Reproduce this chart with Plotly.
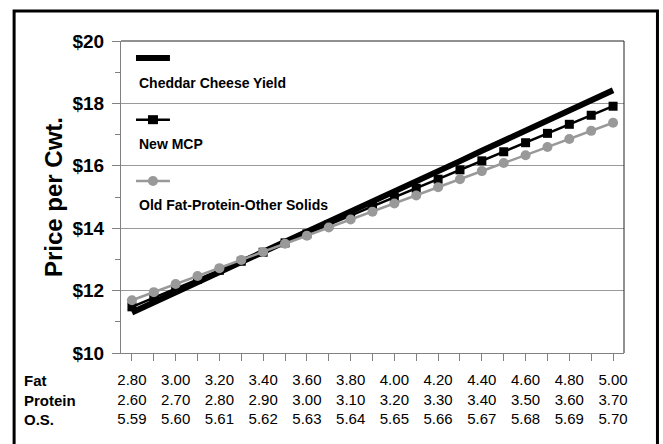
import plotly.graph_objects as go

# ---- data ----
fat = [2.8, 2.9, 3.0, 3.1, 3.2, 3.3, 3.4, 3.5, 3.6, 3.7, 3.8, 3.9, 4.0,
       4.1, 4.2, 4.3, 4.4, 4.5, 4.6, 4.7, 4.8, 4.9, 5.0]
cheddar = [11.30, 11.62, 11.95, 12.27, 12.59, 12.92, 13.24, 13.57, 13.89, 14.21, 14.54, 14.86,
           15.18, 15.51, 15.83, 16.15, 16.48, 16.80, 17.12, 17.45, 17.77, 18.09, 18.42]
new_mcp = [11.48, 11.77, 12.06, 12.36, 12.65, 12.94, 13.23, 13.53, 13.82, 14.11, 14.40, 14.70,
           14.99, 15.28, 15.57, 15.87, 16.16, 16.45, 16.74, 17.04, 17.33, 17.62, 17.91]
old_fpos = [11.69, 11.95, 12.21, 12.47, 12.72, 12.98, 13.24, 13.50, 13.76, 14.02, 14.28, 14.53,
            14.79, 15.05, 15.31, 15.57, 15.83, 16.09, 16.34, 16.60, 16.86, 17.12, 17.38]

label_fat = [2.8, 3.0, 3.2, 3.4, 3.6, 3.8, 4.0, 4.2, 4.4, 4.6, 4.8, 5.0]
fat_text = ["2.80", "3.00", "3.20", "3.40", "3.60", "3.80", "4.00", "4.20", "4.40", "4.60", "4.80", "5.00"]
protein_text = ["2.60", "2.70", "2.80", "2.90", "3.00", "3.10", "3.20", "3.30", "3.40", "3.50", "3.60", "3.70"]
os_text = ["5.59", "5.60", "5.61", "5.62", "5.63", "5.64", "5.65", "5.66", "5.67", "5.68", "5.69", "5.70"]
row_labels = ["Fat", "Protein", "O.S."]

series_names = ["Cheddar Cheese Yield", "New MCP", "Old Fat-Protein-Other Solids"]

GRAY = "#999999"
AX = "#808080"
ARIAL = "Liberation Sans, Arial, sans-serif"

fig = go.Figure()
fig.add_trace(go.Scatter(x=fat, y=cheddar, mode="lines", name=series_names[0],
                         line=dict(color="black", width=6)))
fig.add_trace(go.Scatter(x=fat, y=new_mcp, mode="lines+markers", name=series_names[1],
                         line=dict(color="black", width=2.5),
                         marker=dict(symbol="square", size=9, color="black")))
fig.add_trace(go.Scatter(x=fat, y=old_fpos, mode="lines+markers", name=series_names[2],
                         line=dict(color=GRAY, width=2.5),
                         marker=dict(symbol="circle", size=10, color=GRAY)))

ticktext = [f"{a}<br>{b}<br>{c}" for a, b, c in zip(fat_text, protein_text, os_text)]

L, R, T, B = 121, 38.5, 40.5, 91
W, H = 663, 444
pw, ph = W - L - R, H - T - B


def px2x(px):
    return (px - L) / pw


def px2y(py):
    return (H - B - py) / ph


fig.update_layout(
    width=W, height=H,
    margin=dict(l=L, r=R, t=T, b=B, pad=0),
    paper_bgcolor="white", plot_bgcolor="white",
    showlegend=False,
    font=dict(family=ARIAL, color="black"),
    xaxis=dict(range=[2.75, 5.05], tickmode="array", tickvals=label_fat, ticktext=ticktext,
               ticks="outside", ticklen=7, tickcolor=AX, tickwidth=1, ticklabelstandoff=6,
               showgrid=False, zeroline=False, showline=True, linecolor=AX, linewidth=1,
               tickfont=dict(family=ARIAL, size=15, color="black"),
               minor=dict(dtick=0.1, tick0=2.8, ticks="outside", ticklen=7, tickcolor=AX, showgrid=False)),
    yaxis=dict(range=[10, 20], dtick=2, tick0=10, tickprefix="$",
               ticks="outside", ticklen=8, tickcolor=AX, tickwidth=1, ticklabelstandoff=4,
               showgrid=True, gridcolor=GRAY, gridwidth=1, zeroline=False,
               showline=True, linecolor=AX, linewidth=1,
               tickfont=dict(family=ARIAL, size=19, color="black", weight="bold"),
               minor=dict(dtick=1, ticks="outside", ticklen=5, tickcolor=AX, showgrid=False)),
)

shapes = []
# top/right frame of plot area
shapes.append(dict(type="path", xref="paper", yref="paper",
                   path="M 0 1 L 1 1 L 1 0", line=dict(color="#222222", width=1)))
# outer border (left, top, right)
bx0, bx1, by0, by1 = px2x(14), px2x(658), px2y(448), px2y(10.5)
shapes.append(dict(type="path", xref="paper", yref="paper",
                   path=f"M {bx0} {by0} L {bx0} {by1} L {bx1} {by1} L {bx1} {by0}",
                   line=dict(color="black", width=3)))
# legend samples
lx0, lx1, lxc = px2x(136), px2x(170), px2x(153)
ly = [px2y(57.5), px2y(119.3), px2y(180.7)]
shapes.append(dict(type="line", xref="paper", yref="paper", x0=lx0, x1=lx1, y0=ly[0], y1=ly[0],
                   line=dict(color="black", width=6)))
shapes.append(dict(type="line", xref="paper", yref="paper", x0=lx0, x1=lx1, y0=ly[1], y1=ly[1],
                   line=dict(color="black", width=2.5)))
shapes.append(dict(type="rect", xref="paper", yref="paper", xsizemode="pixel", ysizemode="pixel",
                   xanchor=lxc, yanchor=ly[1], x0=-5, x1=5, y0=-4.5, y1=4.5,
                   fillcolor="black", line=dict(width=0)))
shapes.append(dict(type="line", xref="paper", yref="paper", x0=lx0, x1=lx1, y0=ly[2], y1=ly[2],
                   line=dict(color=GRAY, width=2.5)))
shapes.append(dict(type="circle", xref="paper", yref="paper", xsizemode="pixel", ysizemode="pixel",
                   xanchor=lxc, yanchor=ly[2], x0=-5, x1=5, y0=-5, y1=5,
                   fillcolor=GRAY, line=dict(width=0)))
fig.update_layout(shapes=shapes)

annotations = []
ty = [px2y(82.3), px2y(143.3), px2y(204.5)]
for name, y in zip(series_names, ty):
    annotations.append(dict(text=name, xref="paper", yref="paper", x=px2x(137), y=y,
                            xanchor="left", yanchor="middle", showarrow=False,
                            font=dict(family=ARIAL, size=14, color="black", weight="bold")))
ry = [px2y(381), px2y(400.5), px2y(420)]
for lab, y in zip(row_labels, ry):
    annotations.append(dict(text=lab, xref="paper", yref="paper", x=px2x(22), y=y,
                            xanchor="left", yanchor="middle", showarrow=False,
                            font=dict(family=ARIAL, size=15, color="black", weight="bold")))
annotations.append(dict(text="Price per Cwt.", xref="paper", yref="paper", x=px2x(53), y=0.5,
                        xanchor="center", yanchor="middle", textangle=-90, showarrow=False,
                        font=dict(family=ARIAL, size=24, color="black", weight="bold")))
fig.update_layout(annotations=annotations)

fig.write_html("out.html", config={"displayModeBar": False},
               post_script="document.body.style.margin='0';document.body.style.overflow='hidden';")
